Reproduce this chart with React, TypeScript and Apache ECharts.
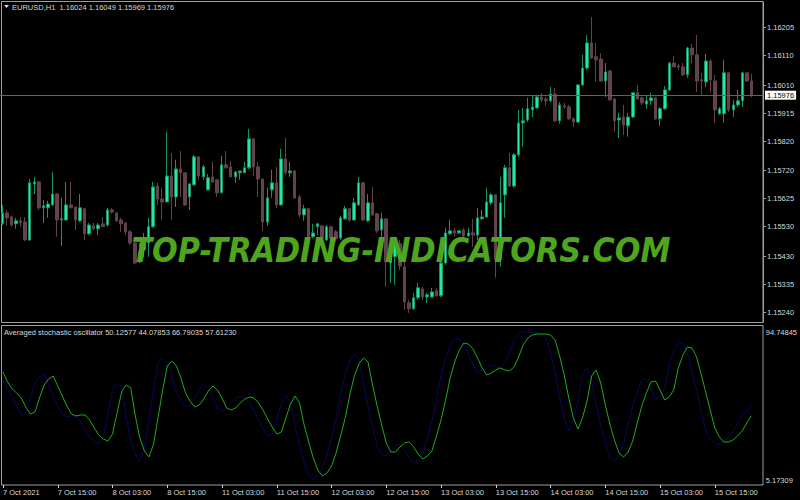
import React, { useEffect, useRef } from "react";
import * as echarts from "echarts";

// ---------- texts ----------
const SYMBOL_HEADER = "EURUSD,H1  1.16024 1.16049 1.15969 1.15976";
const OSC_HEADER = "Averaged stochastic oscillator 50.12577 44.07853 66.79035 57.61230";
const WATERMARK = "TOP-TRADING-INDICATORS.COM";

// ---------- categories (H1 bars) ----------
const SESSION_DAYS = ["7 Oct", "8 Oct", "11 Oct", "12 Oct", "13 Oct", "14 Oct", "15 Oct"];
const FIRST_HOUR = 3;
const PAD_SLOTS = ["pad-1", "pad-2"];
const TIME_TICK_LABELS = [
  "7 Oct 2021", "7 Oct 15:00", "8 Oct 03:00", "8 Oct 15:00", "11 Oct 03:00", "11 Oct 15:00",
  "12 Oct 03:00", "12 Oct 15:00", "13 Oct 03:00", "13 Oct 15:00", "14 Oct 03:00", "14 Oct 15:00",
  "15 Oct 03:00", "15 Oct 15:00",
];

// ---------- price axis ----------
const PRICE_MIN = 1.15207;
const PRICE_MAX = 1.16292;
const PRICE_TICKS = [1.16205, 1.1611, 1.1601, 1.15915, 1.1582, 1.1572, 1.15625, 1.1553, 1.1543, 1.15335, 1.1524];
const LAST_PRICE = 1.15976;

// ---------- oscillator axis ----------
const OSC_MIN = 5.17309;
const OSC_MAX = 94.74845;
const OSC_TICKS = [94.74845, 5.17309];

// ---------- OHLC ----------
const OPEN = [
  1.1554, 1.15577, 1.15563, 1.1554, 1.1555, 1.15546, 1.15485, 1.15675, 1.15682, 1.15594,
  1.15594, 1.15604, 1.15641, 1.15553, 1.15553, 1.15604, 1.15597, 1.1555, 1.15591, 1.15506,
  1.15533, 1.15523, 1.1554, 1.15536, 1.15587, 1.15577, 1.15553, 1.15543, 1.15513, 1.15475,
  1.15411, 1.15452, 1.15475, 1.1553, 1.15668, 1.15624, 1.15614, 1.15702, 1.15631, 1.15726,
  1.15713, 1.15631, 1.15672, 1.15767, 1.15699, 1.15655, 1.15699, 1.15689, 1.15645, 1.1574,
  1.15733, 1.15699, 1.15713, 1.15713, 1.1573, 1.15828, 1.15733, 1.15692, 1.15546, 1.15655,
  1.15679, 1.15604, 1.1576, 1.15713, 1.15719, 1.15631, 1.1557, 1.15591, 1.15496, 1.1553,
  1.15533, 1.15485, 1.1553, 1.15513, 1.15492, 1.15557, 1.15591, 1.15553, 1.15604, 1.15679,
  1.1555, 1.15611, 1.15574, 1.15519, 1.15557, 1.15407, 1.15428, 1.15472, 1.15394, 1.15272,
  1.15252, 1.15289, 1.15319, 1.15292, 1.15292, 1.15313, 1.15296, 1.15407, 1.15506, 1.15516,
  1.15509, 1.15519, 1.15499, 1.15509, 1.15502, 1.15557, 1.15563, 1.15611, 1.15638, 1.15418,
  1.15638, 1.1573, 1.15668, 1.15774, 1.15882, 1.15892, 1.15926, 1.15933, 1.1597, 1.15963,
  1.15957, 1.1598, 1.15889, 1.1594, 1.15936, 1.15896, 1.15885, 1.16011, 1.16068, 1.16153,
  1.16106, 1.16099, 1.16024, 1.16058, 1.15963, 1.15892, 1.15902, 1.15872, 1.15902, 1.15984,
  1.15967, 1.15946, 1.15957, 1.15967, 1.15896, 1.1593, 1.15994, 1.16085, 1.16075, 1.16072,
  1.16045, 1.16136, 1.16113, 1.16028, 1.16021, 1.16092, 1.16024, 1.15913, 1.15913, 1.16052,
  1.15926, 1.15943, 1.15957, 1.16052, 1.16024,
];
const CLOSE = [
  1.15577, 1.1556, 1.15536, 1.1555, 1.15543, 1.15485, 1.15679, 1.15682, 1.15594, 1.15601,
  1.15607, 1.15641, 1.15553, 1.15557, 1.15604, 1.15594, 1.15553, 1.15594, 1.15506, 1.15536,
  1.15523, 1.15536, 1.1553, 1.15587, 1.1558, 1.1555, 1.1554, 1.15513, 1.15475, 1.15407,
  1.15445, 1.15475, 1.1553, 1.15665, 1.15624, 1.15614, 1.15702, 1.15631, 1.15726, 1.15713,
  1.15604, 1.15675, 1.15767, 1.15702, 1.15733, 1.15696, 1.15682, 1.15645, 1.1574, 1.1573,
  1.15699, 1.15716, 1.15719, 1.1573, 1.15828, 1.15733, 1.15692, 1.15546, 1.15628, 1.15679,
  1.15604, 1.1576, 1.15713, 1.15719, 1.15628, 1.1557, 1.15591, 1.15496, 1.15509, 1.1554,
  1.15492, 1.1553, 1.15492, 1.15489, 1.1556, 1.15591, 1.15553, 1.15611, 1.15679, 1.15553,
  1.15611, 1.1557, 1.15516, 1.15557, 1.15411, 1.15434, 1.15475, 1.15397, 1.15275, 1.15252,
  1.15289, 1.15323, 1.15292, 1.15299, 1.15309, 1.15296, 1.15407, 1.15509, 1.15516, 1.15509,
  1.15516, 1.15499, 1.15509, 1.15502, 1.1556, 1.15563, 1.15614, 1.15638, 1.15418, 1.15611,
  1.1573, 1.15668, 1.15774, 1.15882, 1.15889, 1.1593, 1.15936, 1.1597, 1.1596, 1.15957,
  1.1598, 1.15889, 1.15943, 1.15936, 1.15896, 1.15885, 1.16011, 1.16068, 1.16153, 1.16102,
  1.16096, 1.16024, 1.16055, 1.1596, 1.15889, 1.15899, 1.15875, 1.15902, 1.15984, 1.15963,
  1.1595, 1.15957, 1.15967, 1.15896, 1.1593, 1.15994, 1.16085, 1.16072, 1.16072, 1.16045,
  1.16136, 1.16113, 1.16024, 1.16024, 1.16092, 1.16028, 1.15926, 1.1593, 1.16052, 1.15926,
  1.15943, 1.15957, 1.16052, 1.16024, 1.15976,
];
const LOW = [
  1.15536, 1.15533, 1.1553, 1.15523, 1.1553, 1.15482, 1.15482, 1.15641, 1.15587, 1.15543,
  1.1556, 1.15601, 1.15496, 1.15465, 1.1555, 1.15594, 1.15519, 1.15546, 1.15485, 1.15502,
  1.15519, 1.15502, 1.1553, 1.1553, 1.15574, 1.15546, 1.15513, 1.15502, 1.15468, 1.15404,
  1.15407, 1.15428, 1.15428, 1.15526, 1.15604, 1.15553, 1.15614, 1.15553, 1.15597, 1.15631,
  1.15601, 1.15587, 1.15668, 1.15689, 1.15689, 1.15652, 1.15679, 1.15631, 1.15645, 1.15726,
  1.15699, 1.15679, 1.15689, 1.15713, 1.15726, 1.15702, 1.15631, 1.15516, 1.15533, 1.15628,
  1.15594, 1.15601, 1.15706, 1.15699, 1.15624, 1.15563, 1.1555, 1.15492, 1.15492, 1.15502,
  1.15485, 1.15482, 1.15472, 1.15482, 1.15485, 1.15553, 1.15546, 1.1555, 1.15601, 1.1555,
  1.15546, 1.15567, 1.15509, 1.15492, 1.15326, 1.1534, 1.15333, 1.15384, 1.15248, 1.15238,
  1.15248, 1.15282, 1.15282, 1.15272, 1.15289, 1.15292, 1.15292, 1.15401, 1.15502, 1.15496,
  1.15506, 1.15492, 1.15496, 1.15462, 1.15485, 1.15553, 1.1556, 1.15604, 1.15357, 1.15394,
  1.1556, 1.15665, 1.15662, 1.15767, 1.15801, 1.15885, 1.15902, 1.1593, 1.15953, 1.1594,
  1.15953, 1.15885, 1.15879, 1.1593, 1.15892, 1.15868, 1.15882, 1.16007, 1.16062, 1.16099,
  1.16021, 1.16021, 1.1597, 1.15957, 1.15852, 1.15831, 1.15841, 1.15835, 1.15899, 1.1596,
  1.15943, 1.1593, 1.15943, 1.15892, 1.15872, 1.15926, 1.1599, 1.16072, 1.16062, 1.16041,
  1.16035, 1.16085, 1.15987, 1.15977, 1.16004, 1.15984, 1.15882, 1.15909, 1.15882, 1.15919,
  1.15902, 1.15936, 1.15936, 1.16021, 1.15969,
];
const HIGH = [
  1.15604, 1.15587, 1.15567, 1.1556, 1.15563, 1.15563, 1.15692, 1.15699, 1.15685, 1.15621,
  1.15618, 1.15716, 1.15645, 1.15628, 1.15682, 1.15682, 1.15597, 1.15641, 1.15594, 1.15543,
  1.15543, 1.15543, 1.15563, 1.15594, 1.15594, 1.1558, 1.1556, 1.15543, 1.15519, 1.15479,
  1.15475, 1.15509, 1.1556, 1.15682, 1.15679, 1.15662, 1.15851, 1.1578, 1.15757, 1.15787,
  1.15713, 1.15679, 1.15774, 1.15767, 1.1574, 1.15709, 1.1575, 1.15692, 1.1577, 1.15787,
  1.15753, 1.15719, 1.15719, 1.1575, 1.15862, 1.15831, 1.1575, 1.15692, 1.15662, 1.15723,
  1.15733, 1.15794, 1.15831, 1.1575, 1.15723, 1.15638, 1.15604, 1.15594, 1.1554, 1.15543,
  1.15536, 1.15536, 1.15533, 1.15519, 1.15567, 1.15601, 1.15594, 1.15628, 1.15699, 1.15682,
  1.15641, 1.15665, 1.15577, 1.15577, 1.15557, 1.15475, 1.15485, 1.15485, 1.15441, 1.15282,
  1.15306, 1.1534, 1.15326, 1.15306, 1.15323, 1.15323, 1.15411, 1.15526, 1.15553, 1.15526,
  1.15519, 1.15526, 1.15526, 1.15557, 1.15594, 1.15587, 1.15662, 1.15645, 1.15641, 1.15699,
  1.1574, 1.1578, 1.1578, 1.15926, 1.15933, 1.15967, 1.15977, 1.15977, 1.15984, 1.1597,
  1.16004, 1.16001, 1.15953, 1.1595, 1.15943, 1.15902, 1.16014, 1.16113, 1.1618, 1.16241,
  1.16153, 1.16119, 1.16085, 1.16062, 1.15967, 1.15916, 1.15943, 1.15916, 1.15987, 1.16011,
  1.1597, 1.15974, 1.15984, 1.1597, 1.15936, 1.16007, 1.16089, 1.16109, 1.16082, 1.16085,
  1.1614, 1.1615, 1.1618, 1.16052, 1.16116, 1.16099, 1.16045, 1.15936, 1.16096, 1.16052,
  1.1596, 1.15994, 1.16052, 1.16052, 1.16049,
];

// ---------- oscillator ----------
const OSC_MAIN = [
  70.54, 64.49, 60.25, 57.83, 54.8, 49.35, 45.12, 46.33, 54.8, 62.67,
  66.3, 68.12, 62.06, 56.01, 49.96, 45.12, 43.91, 44.51, 44.51, 41.48,
  36.64, 32.41, 29.98, 28.77, 33.01, 45.72, 58.43, 62.67, 60.85, 43.91,
  30.59, 22.72, 19.09, 26.96, 43.3, 59.64, 74.17, 77.2, 74.17, 66.91,
  57.83, 52.99, 49.35, 50.57, 54.2, 59.04, 62.06, 59.64, 54.8, 48.75,
  47.54, 48.75, 51.78, 54.2, 55.41, 54.8, 51.78, 47.54, 42.09, 37.25,
  33.01, 34.22, 42.69, 51.17, 56.01, 51.78, 38.46, 28.17, 18.48, 11.22,
  7.59, 9.41, 13.64, 21.51, 31.8, 42.69, 56.62, 68.12, 75.38, 79.01,
  76.59, 62.67, 49.96, 38.46, 27.56, 22.11, 22.11, 25.14, 27.56, 28.17,
  25.14, 20.9, 17.88, 19.69, 22.72, 31.8, 41.48, 53.59, 66.91, 76.59,
  83.85, 88.09, 87.49, 84.46, 79.01, 72.96, 68.72, 69.93, 71.75, 72.96,
  71.75, 71.14, 73.56, 79.62, 86.88, 91.12, 92.93, 93.54, 93.54, 93.54,
  92.93, 89.91, 80.22, 68.72, 54.8, 42.69, 36.04, 42.69, 52.99, 68.12,
  71.75, 63.88, 50.57, 39.06, 29.38, 21.51, 19.09, 22.11, 28.77, 39.67,
  49.96, 57.83, 64.49, 65.09, 59.64, 53.59, 55.41, 59.64, 72.96, 80.83,
  85.67, 85.06, 79.62, 69.33, 58.43, 47.54, 36.64, 31.19, 28.17, 28.17,
  29.38, 31.8, 34.83, 39.67, 44.07853,
];
const OSC_SIGNAL = [
  66, 60, 56, 49.5, 44.5, 45.5, 54.5, 63.7, 67.5, 69.5,
  63, 56.5, 50, 44.7, 43.4, 44, 44, 40.7, 35.5, 31,
  28.4, 27, 31.7, 45.4, 59.1, 63.7, 61.7, 43.4, 29, 20.5,
  16.5, 25, 42.8, 60.4, 76, 79.3, 76, 68.3, 58.5, 53.2,
  49.3, 50.6, 54.5, 59.7, 63, 60.4, 55.2, 48.6, 47.3, 48.6,
  52, 54.5, 55.8, 55.2, 52, 47.3, 41.4, 36.2, 31.7, 33,
  42.1, 51.3, 56.5, 52, 37.6, 26.5, 16, 8.2, 5.3, 7.5,
  12.2, 20.4, 30.8, 42.1, 57.1, 69.5, 77.4, 81.4, 78.7, 63.7,
  50, 37.6, 25.8, 20.1, 20.1, 23.3, 25.8, 26.5, 23.3, 18.8,
  15.6, 17.6, 20.9, 30.6, 40.8, 53.9, 68.3, 78.7, 86.5, 91,
  90.4, 87.2, 81.4, 74.9, 70.3, 71.6, 73.6, 74.9, 73.6, 73,
  75.5, 82, 89.8, 94.3, 94.74, 94.74, 94.7, 94.3, 93.6, 91.4,
  82.3, 70.3, 55.2, 42.1, 34.9, 42.1, 53.2, 69.5, 73.6, 64.8,
  50.6, 38.3, 27.8, 19.3, 16.5, 19.9, 27.2, 38.9, 49.9, 58.5,
  65.7, 66.3, 60.4, 53.9, 55.8, 60.4, 74.8, 83.3, 88.6, 87.9,
  82, 70.8, 59.1, 47.3, 35.5, 30.1, 26.9, 26.9, 28.3, 31,
  34.5, 39.6, 44.5, 47.5, 50.12577,
];

// ---------- colours ----------
const BG = "#000000";
const FRAME = "#a0a0a0";
const TEXT = "#d8d8d8";
const BULL_BODY = "#22eaa4";
const BULL_WICK = "#119468";
const BEAR = "#62424f";
const PRICE_LINE = "#6e5c66";
const OSC_GREEN = "#22a822";
const OSC_BLUE = "#08085c";
const WATERMARK_COLOR = "#4ea61c";
const FONT = "Liberation Sans";

function buildCategories(): string[] {
  const out: string[] = [];
  SESSION_DAYS.forEach((day, d) => {
    for (let h = d === 0 ? FIRST_HOUR : 0; h < 24; h++) {
      out.push(`${day} ${String(h).padStart(2, "0")}:00`);
    }
  });
  return out.concat(PAD_SLOTS);
}

export default function App() {
  const ref = useRef<HTMLDivElement>(null);

  useEffect(() => {
    if (!ref.current) return;
    const chart = echarts.init(ref.current, null, { renderer: "svg" });
    const categories = buildCategories();
    const candles = OPEN.map((o, i) => [o, CLOSE[i], LOW[i], HIGH[i]]);
    const tickEvery = (index: number) => index % 12 === 0 && index / 12 < TIME_TICK_LABELS.length;

    chart.setOption({
      animation: false,
      backgroundColor: BG,
      grid: [
        { left: 0, right: 37, top: 2, height: 320 },
        { left: 0, right: 37, top: 332, height: 148 },
      ],
      xAxis: [
        { type: "category", gridIndex: 0, data: categories, show: false },
        {
          type: "category",
          gridIndex: 1,
          data: categories,
          offset: 5,
          axisLine: { show: false },
          axisTick: {
            show: true,
            alignWithLabel: true,
            interval: tickEvery,
            length: 3,
            lineStyle: { color: TEXT },
          },
          axisLabel: {
            interval: tickEvery,
            formatter: (_v: string, index: number) => TIME_TICK_LABELS[index / 12] || "",
            align: "left",
            color: TEXT,
            fontSize: 7.5,
            fontFamily: FONT,
            margin: 3,
          },
          splitLine: { show: false },
        },
      ],
      yAxis: [
        {
          type: "value",
          gridIndex: 0,
          position: "right",
          min: PRICE_MIN,
          max: PRICE_MAX,
          axisLine: { show: true, lineStyle: { color: FRAME } },
          axisTick: { show: true, customValues: PRICE_TICKS, length: 3, lineStyle: { color: FRAME } },
          axisLabel: {
            customValues: PRICE_TICKS,
            formatter: (v: number) => v.toFixed(5),
            color: TEXT,
            fontSize: 7.5,
            fontFamily: FONT,
            margin: 4,
          },
          splitLine: { show: false },
        },
        {
          type: "value",
          gridIndex: 1,
          position: "right",
          min: OSC_MIN,
          max: OSC_MAX,
          axisLine: { show: false },
          axisTick: { show: false },
          axisLabel: {
            customValues: OSC_TICKS,
            formatter: (v: number) => v.toFixed(5),
            color: TEXT,
            fontSize: 7.5,
            fontFamily: FONT,
            margin: 3,
          },
          splitLine: { show: false },
        },
      ],
      series: [
        {
          type: "candlestick",
          xAxisIndex: 0,
          yAxisIndex: 0,
          data: candles,
          barWidth: 3,
          itemStyle: {
            color: BULL_BODY,
            color0: BEAR,
            borderColor: BULL_WICK,
            borderColor0: BEAR,
            borderWidth: 1,
          },
          markLine: {
            silent: true,
            precision: 5,
            symbol: ["none", "none"],
            data: [{ yAxis: LAST_PRICE }],
            lineStyle: { color: PRICE_LINE, width: 1, type: "solid" },
            label: {
              show: true,
              position: "end",
              formatter: LAST_PRICE.toFixed(5),
              color: "#000000",
              backgroundColor: "#ffffff",
              padding: [1, 2, 0, 2],
              fontSize: 7.5,
              fontFamily: FONT,
              distance: 2,
            },
          },
        },
        {
          type: "line",
          xAxisIndex: 1,
          yAxisIndex: 1,
          data: OSC_SIGNAL,
          showSymbol: false,
          lineStyle: { color: OSC_BLUE, width: 1 },
        },
        {
          type: "line",
          xAxisIndex: 1,
          yAxisIndex: 1,
          data: OSC_MAIN,
          showSymbol: false,
          lineStyle: { color: OSC_GREEN, width: 1 },
        },
      ],
      graphic: [
        {
          type: "rect",
          silent: true,
          shape: { x: 1.5, y: 1.5, width: 761.5, height: 321 },
          style: { fill: "none", stroke: FRAME, lineWidth: 1 },
        },
        {
          type: "rect",
          silent: true,
          shape: { x: 1.5, y: 325.5, width: 761.5, height: 159.5 },
          style: { fill: "none", stroke: FRAME, lineWidth: 1 },
        },
        {
          type: "polygon",
          silent: true,
          shape: { points: [[4, 5], [9, 5], [6.5, 8]] },
          style: { fill: TEXT },
        },
        {
          type: "text",
          silent: true,
          x: 12,
          y: 7,
          style: {
            text: SYMBOL_HEADER,
            fill: TEXT,
            fontSize: 7.5,
            fontFamily: FONT,
            align: "left",
            verticalAlign: "middle",
          },
        },
        {
          type: "text",
          silent: true,
          x: 4,
          y: 332,
          style: {
            text: OSC_HEADER,
            fill: TEXT,
            fontSize: 7.5,
            fontFamily: FONT,
            align: "left",
            verticalAlign: "middle",
          },
        },
        {
          type: "text",
          silent: true,
          x: 401,
          y: 250,
          scaleX: 0.89,
          z: 100,
          style: {
            text: WATERMARK,
            fill: WATERMARK_COLOR,
            fontSize: 34,
            fontWeight: "bold",
            fontStyle: "italic",
            fontFamily: "DejaVu Sans",
            align: "center",
            verticalAlign: "middle",
          },
        },
      ],
    });

    return () => chart.dispose();
  }, []);

  return (
    <div
      ref={ref}
      style={{ position: "absolute", left: 0, top: 0, width: 800, height: 500, background: BG }}
    />
  );
}
